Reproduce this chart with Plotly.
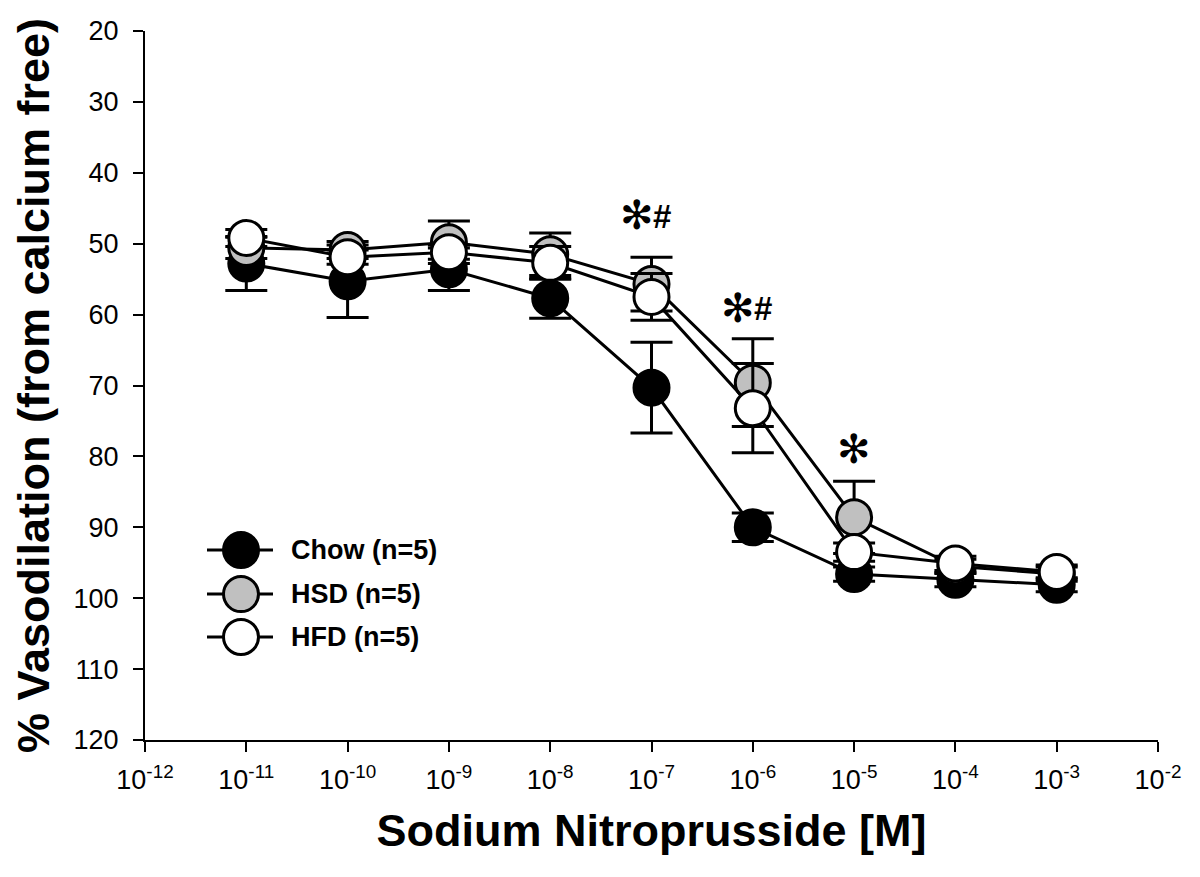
import math
import plotly.graph_objects as go

# ---- data ----
concentration = [1e-11, 1e-10, 1e-9, 1e-8, 1e-7, 1e-6, 1e-5, 1e-4, 1e-3]

chow_mean = [52.8, 55.3, 53.6, 57.7, 70.3, 90.0, 96.6, 97.4, 98.1]
chow_sem = [3.8, 5.1, 3.0, 2.8, 6.4, 2.0, 1.0, 1.0, 1.0]

hsd_mean = [50.6, 50.9, 49.8, 51.5, 55.7, 69.6, 88.6, 95.5, 96.6]
hsd_sem = [1.5, 1.2, 3.0, 3.0, 3.8, 6.2, 5.1, 1.0, 1.0]

hfd_mean = [49.2, 51.9, 51.2, 52.7, 57.5, 73.2, 93.5, 95.1, 96.3]
hfd_sem = [1.2, 1.0, 1.0, 2.3, 3.3, 6.3, 1.3, 1.0, 1.0]

series_names = ["Chow (n=5)", "HSD (n=5)", "HFD (n=5)"]
series_fill = ["#000000", "#c0c0c0", "#ffffff"]

y_ticks = [20, 30, 40, 50, 60, 70, 80, 90, 100, 110, 120]
x_tick_vals = [1e-12, 1e-11, 1e-10, 1e-9, 1e-8, 1e-7, 1e-6, 1e-5, 1e-4, 1e-3, 1e-2]
x_tick_text = ["10<sup>-%d</sup>" % e for e in range(12, 1, -1)]

# significance marks
sig_x = [1e-7, 1e-6, 1e-5]
sig_y = [46.0, 59.0, 78.9]
sig_hash = [True, True, False]

FONT = "Liberation Sans, Arial, sans-serif"
PAGE_OFFSET = 8  # default body margin of the html page

fig = go.Figure()
for name, mean, sem, fill in zip(series_names,
                                 [chow_mean, hsd_mean, hfd_mean],
                                 [chow_sem, hsd_sem, hfd_sem],
                                 series_fill):
    fig.add_trace(go.Scatter(
        x=concentration, y=mean, name=name, mode="lines+markers",
        line=dict(color="black", width=3),
        marker=dict(size=35, color=fill, line=dict(color="black", width=3)),
        error_y=dict(type="data", array=sem, visible=True, color="black",
                     thickness=3, width=21),
        showlegend=False,
    ))

annotations = []
for sx, sy, h in zip(sig_x, sig_y, sig_hash):
    lx = math.log10(sx)  # annotations on log axes use log10 units
    annotations.append(dict(
        x=lx, y=sy, xref="x", yref="y", text="✻", showarrow=False,
        xanchor="center", yanchor="middle", xshift=(-15 if h else 0),
        font=dict(family="DejaVu Sans", size=40, color="black"),
    ))
    if h:
        annotations.append(dict(
            x=lx, y=sy, xref="x", yref="y", text="<b>#</b>", showarrow=False,
            xanchor="left", yanchor="middle", xshift=-1, yshift=-1,
            font=dict(family=FONT, size=33, color="black"),
        ))

# manual legend (paper coordinates)
plot_l, plot_r, plot_t, plot_b = 145, 1158, 30.7, 740
def px_x(px):
    return (px - plot_l) / (plot_r - plot_l)
def px_y(py):
    return (plot_b - py) / (plot_b - plot_t)

legend_rows = [550, 594, 637]
shapes = []
for row, name, fill in zip(legend_rows, series_names, series_fill):
    yy = px_y(row)
    shapes.append(dict(type="line", xref="paper", yref="paper",
                       x0=px_x(207), x1=px_x(273), y0=yy, y1=yy,
                       line=dict(color="black", width=3)))
    shapes.append(dict(type="circle", xref="paper", yref="paper",
                       xsizemode="pixel", ysizemode="pixel",
                       xanchor=px_x(241), yanchor=yy,
                       x0=-17.5, x1=17.5, y0=-17.5, y1=17.5,
                       fillcolor=fill, line=dict(color="black", width=3)))
    annotations.append(dict(
        x=px_x(289), y=yy, xref="paper", yref="paper", text="<b>%s</b>" % name,
        showarrow=False, xanchor="left", yanchor="middle",
        font=dict(family=FONT, size=27, color="black"),
    ))

fig.update_layout(
    width=1200, height=877,
    margin=dict(l=plot_l - PAGE_OFFSET, r=1200 - (plot_r - PAGE_OFFSET),
                t=plot_t - PAGE_OFFSET, b=877 - (plot_b - PAGE_OFFSET),
                autoexpand=False),
    paper_bgcolor="white", plot_bgcolor="white",
    font=dict(family=FONT, color="black"),
    shapes=shapes, annotations=annotations,
    showlegend=False,
)
fig.update_xaxes(
    type="log", range=[-12, -2],
    tickvals=x_tick_vals, ticktext=x_tick_text,
    showline=True, linewidth=2, linecolor="black",
    ticks="outside", ticklen=10, tickwidth=2, tickcolor="black",
    showgrid=False, zeroline=False,
    tickfont=dict(family=FONT, size=27, color="black"),
    ticklabelstandoff=5,
    title=dict(text="Sodium Nitroprusside [M]", standoff=20,
               font=dict(family=FONT, size=45, color="black", weight="bold")),
    automargin=False,
)
fig.update_yaxes(
    range=[120, 20], tickvals=y_ticks,
    showline=True, linewidth=2, linecolor="black",
    ticks="outside", ticklen=10, tickwidth=2, tickcolor="black",
    showgrid=False, zeroline=False,
    tickfont=dict(family=FONT, size=27, color="black"),
    ticklabelstandoff=9,
    title=dict(text="% Vasodilation (from calcium free)", standoff=14,
               font=dict(family=FONT, size=45, color="black", weight="bold")),
    automargin=False,
)

fig.write_html("out.html")
